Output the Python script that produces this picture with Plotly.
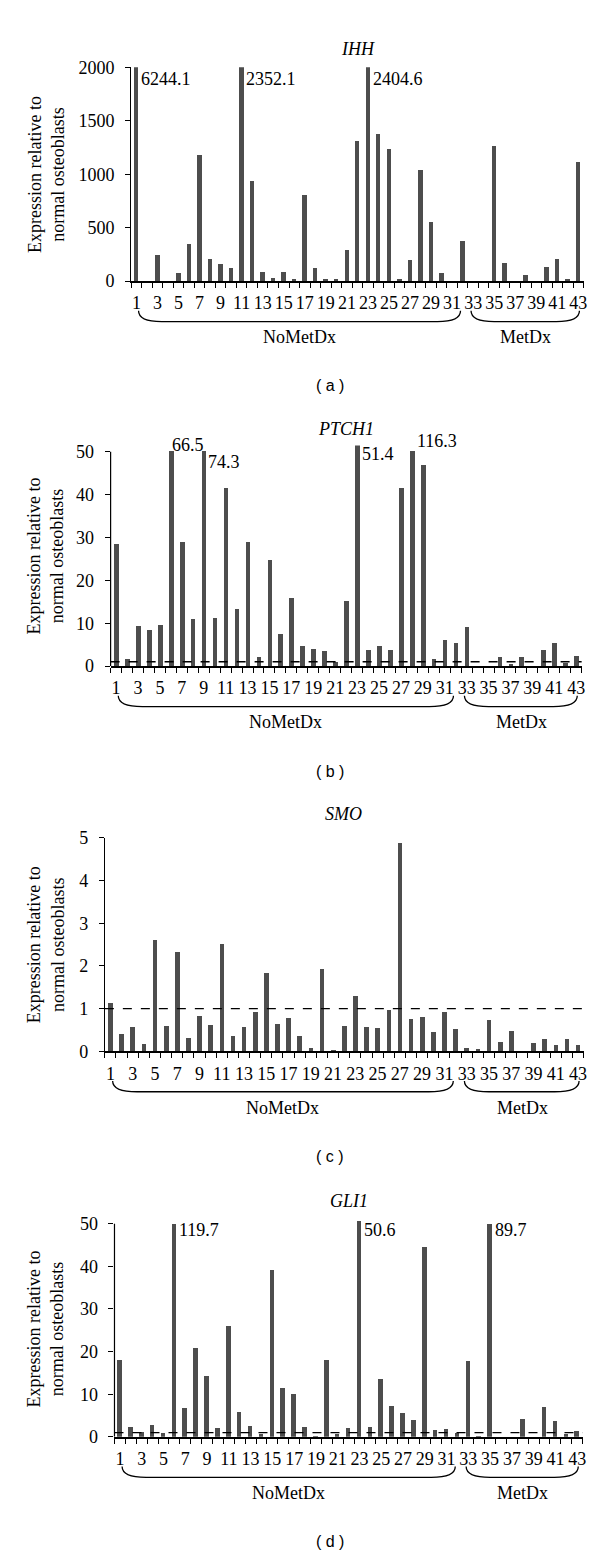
import plotly.graph_objects as go

W, H = 600, 1558

samples = list(range(1, 44))
tick_vals = list(range(1, 44, 2))
tick_text = [str(v) for v in tick_vals]

ihh = [2000, 0, 239, 0, 70, 347, 1175, 200, 153, 117,
       2000, 929, 80, 21, 83, 12, 804, 123, 18, 15,
       288, 1310, 2000, 1371, 1236, 9, 190, 1034, 552, 71,
       0, 368, 0, 0, 1264, 163, 0, 49, 0, 129,
       206, 15, 1113]
ptch1 = [28.4, 1.5, 9.2, 8.3, 9.5, 50, 28.9, 11.0, 50, 11.2,
         41.5, 13.3, 28.9, 2.1, 24.7, 7.5, 15.8, 4.5, 3.9, 3.5,
         0.8, 15.0, 51.4, 3.6, 4.6, 3.6, 41.5, 50, 46.8, 1.5,
         6.0, 5.2, 9.1, 0, 0, 2.0, 0.3, 2.0, 0, 3.6,
         5.4, 0.6, 2.3]
smo = [1.13, 0.40, 0.58, 0.18, 2.60, 0.60, 2.32, 0.32, 0.84, 0.62,
       2.52, 0.36, 0.57, 0.93, 1.84, 0.64, 0.79, 0.35, 0.07, 1.94,
       0.03, 0.59, 1.30, 0.57, 0.56, 0.97, 4.88, 0.75, 0.81, 0.45,
       0.93, 0.52, 0.08, 0.05, 0.73, 0.23, 0.49, 0, 0.20, 0.30,
       0.15, 0.29, 0.15]
gli1 = [18.2, 2.3, 1.2, 2.8, 0.9, 50, 6.9, 21.0, 14.3, 2.2,
        26.0, 5.8, 2.6, 0.8, 39.1, 11.6, 10.2, 2.4, 0.2, 18.0,
        0.8, 2.2, 50.6, 2.4, 13.7, 7.3, 5.7, 4.0, 44.5, 1.7,
        1.8, 0.9, 17.9, 0.2, 50, 0, 0, 4.2, 0, 7.0,
        3.8, 0.8, 1.4]

# off-scale values written next to the clipped bars: (sample, label, x shift, pixel y)
ihh_notes = [(1, "6244.1", 0.25, 62), (11, "2352.1", 0.25, 62), (23, "2404.6", 0.25, 62)]
ptch1_notes = [(6, "66.5", -0.05, 433), (9, "74.3", 0.25, 450), (23, "51.4", 0.25, 442),
               (28, "116.3", 0.25, 428)]
gli1_notes = [(6, "119.7", 0.25, 1228), (23, "50.6", 0.25, 1228), (35, "89.7", 0.25, 1228)]

groups = [("NoMetDx", 1.2, 31.8, 16.5), ("MetDx", 32.8, 43.1, 38.0)]

# name, values, y ticks, y top, axis top value, ref line, notes, panel px box, title px, tag
panels = [
    ("IHH", ihh, [0, 500, 1000, 1500, 2000], 2000, 2000, False, ihh_notes,
     (124, 579.5, 50, 266.5), (352, 31.5), "( a )", 372),
    ("PTCH1", ptch1, [0, 10, 20, 30, 40, 50], 51.5, 50, True, ptch1_notes,
     (103.3, 577.5, 433, 656.5), (340, 416.5), "( b )", 763),
    ("SMO", smo, [0, 1, 2, 3, 4, 5], 5, 5, True, [],
     (97.5, 579.4, 830.5, 1046.7), (338, 806.5), "( c )", 1153),
    ("GLI1", gli1, [0, 10, 20, 30, 40, 50], 50.7, 50, True, gli1_notes,
     (107.2, 578.5, 1218.4, 1437.3), (343, 1198), "( d )", 1543),
]

SERIF = "Liberation Serif"
FS = 18
px = lambda x: x / W
py = lambda y: 1 - y / H


def text_font(size=FS, family=SERIF):
    return dict(family=family, size=size, color="black")


fig = go.Figure()
shapes, annotations = [], []
layout = {}

for i, (name, vals, yticks, ytop, axtop, ref, notes, box, tpos, tag, tag_y) in enumerate(panels):
    k = "" if i == 0 else str(i + 1)
    xa, ya = "x" + k, "y" + k
    x0, x1, y0, y1 = box

    fig.add_trace(go.Bar(x=samples, y=vals, width=0.42, marker_color="#4d4d4d",
                         marker_line_width=0, xaxis=xa, yaxis=ya, hoverinfo="x+y"))

    layout["xaxis" + k] = dict(
        domain=[px(x0), px(x1)], range=[0.5, 43.5], anchor=ya,
        tickmode="array", tickvals=tick_vals, ticktext=tick_text, ticks="",
        showline=True, linecolor="black", linewidth=1.6, showgrid=False, zeroline=False,
        tickfont=text_font(), ticklabelstandoff=5,
        minor=dict(ticks="outside", tickvals=[v + 0.5 for v in range(0, 44)],
                   ticklen=5, tickwidth=1, tickcolor="black"))
    layout["yaxis" + k] = dict(
        domain=[py(y1), py(y0)], range=[0, ytop], anchor=xa,
        tickmode="array", tickvals=yticks, ticks="outside", ticklen=5, tickcolor="black",
        showline=(ytop == axtop), linecolor="black", linewidth=1.2,
        showgrid=False, zeroline=False,
        tickfont=text_font(), ticklabelstandoff=7)

    if ytop != axtop:
        shapes.append(dict(type="line", xref=xa + " domain", yref=ya, x0=0, x1=0,
                           y0=0, y1=axtop, line=dict(color="black", width=1.2)))
    if ref:
        shapes.append(dict(type="line", xref=xa + " domain", yref=ya, x0=0, x1=1,
                           y0=1, y1=1, layer="above",
                           line=dict(color="black", width=1.4, dash="dash")))

    # braces under the sample numbers
    bt, bb = py(y1 + 30), py(y1 + 41)
    for label, g0, g1, gc in groups:
        d = 2.2
        path = (f"M {g0},{bt} Q {g0},{bb} {g0 + d},{bb} L {g1 - d},{bb} "
                f"Q {g1},{bb} {g1},{bt}")
        shapes.append(dict(type="path", xref=xa, yref="paper", path=path,
                           line=dict(color="black", width=1.3)))
        annotations.append(dict(x=gc, y=py(y1 + 57), xref=xa, yref="paper", text=label,
                                xanchor="center", yanchor="middle", showarrow=False,
                                font=text_font()))

    for s, txt, dx, ypx in notes:
        annotations.append(dict(x=s + dx, y=py(ypx), xref=xa, yref="paper", text=txt,
                                xanchor="left", yanchor="middle", showarrow=False,
                                font=text_font()))

    annotations.append(dict(x=px(tpos[0]), y=py(tpos[1]), xref="paper", yref="paper",
                            text=f"<i>{name}</i>", showarrow=False,
                            xanchor="center", yanchor="middle", font=text_font()))
    annotations.append(dict(x=px(38), y=py((y0 + y1) / 2), xref="paper", yref="paper",
                            text="Expression relative to<br>normal osteoblasts", textangle=-90,
                            xanchor="center", yanchor="middle", showarrow=False,
                            font=text_font()))
    annotations.append(dict(x=px(324), y=py(tag_y), xref="paper", yref="paper", text=tag,
                            xanchor="center", yanchor="middle", showarrow=False,
                            font=text_font(16, "Liberation Sans")))

fig.update_layout(width=W, height=H, margin=dict(l=0, r=0, t=0, b=0),
                  paper_bgcolor="white", plot_bgcolor="white", showlegend=False,
                  bargap=0, shapes=shapes, annotations=annotations, **layout)

fig.write_html("out.html")
